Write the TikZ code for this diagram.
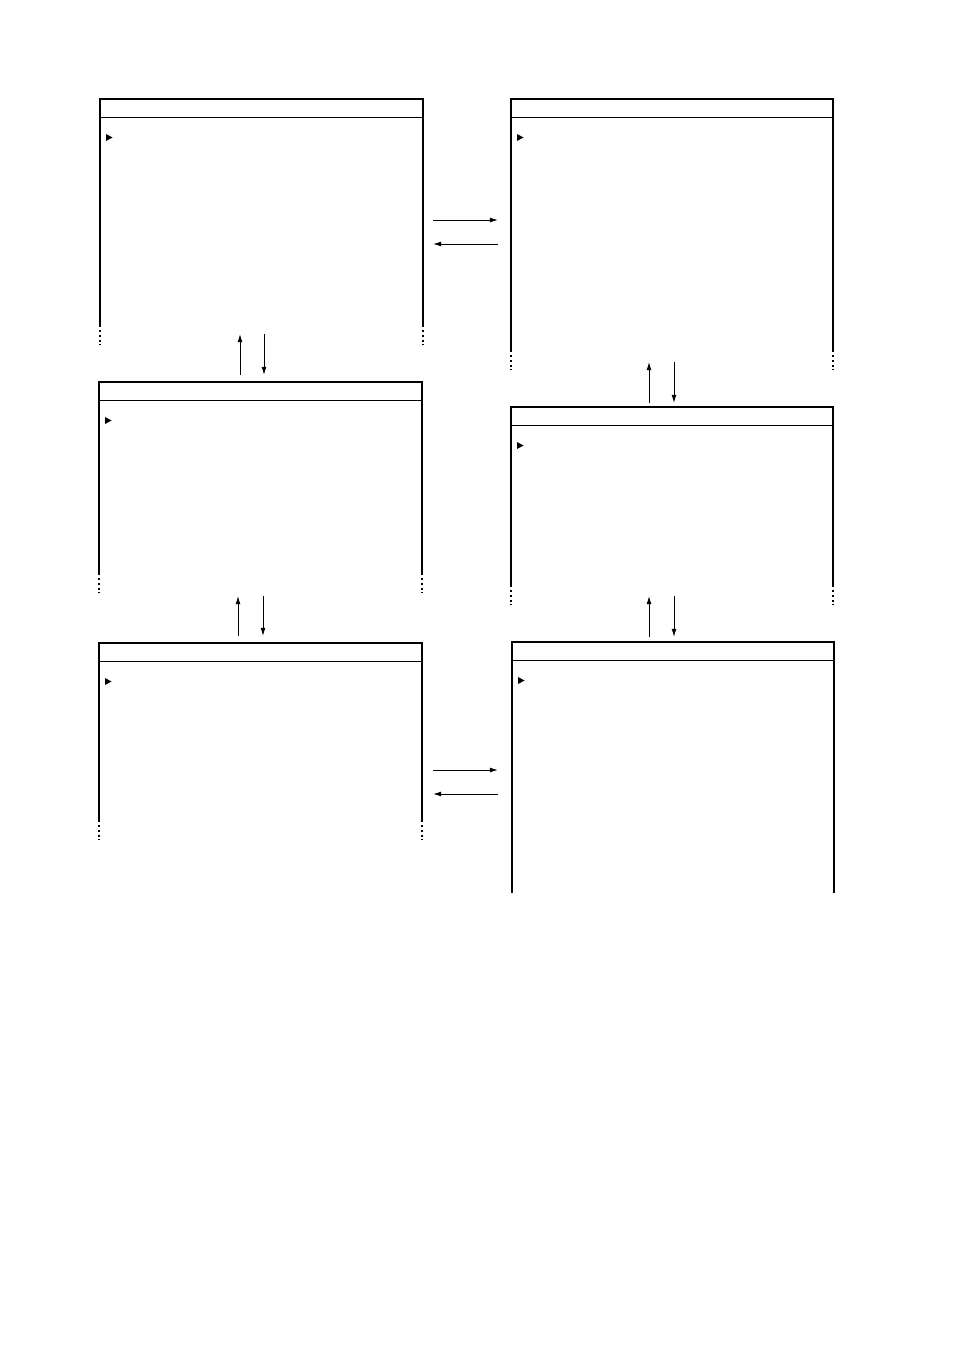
\documentclass[tikz,border=0pt]{standalone}
\usetikzlibrary{arrows.meta}

\tikzset{
  frame/.style={line width=0.75pt},
  tail/.style={line width=0.75pt,dash pattern=on 1.4pt off 1.6pt},
  flow/.style={line width=0.6pt,-{Latex[length=5pt,width=3pt]}},
}

\begin{document}
\begin{tikzpicture}[x=0.6237pt,y=-0.6237pt]
\useasboundingbox (0,0) rectangle (954,1351);

% panels: name/left/top/right/bottom of solid sides
\foreach \nm/\l/\t/\r/\b in {tl/100/99/423/327,tr/511/99/833/352,ml/99/382/422/575,
                            mr/511/407/833/587,bl/99/643/422/822,br/512/642/834/893} {
    \coordinate (\nm) at (\l,\t);
    \draw[frame] (\l,\b) -- (\l,\t) -- (\r,\t) -- (\r,\b);
    \draw[frame] (\l,\t+18.5) -- (\r,\t+18.5);
    \fill (\l+6,\t+35) -- (\l+12.5,\t+38.5) -- (\l+6,\t+42) -- cycle;
}

% cut-off sides
\foreach \l/\r/\b in {100/423/327,511/833/352,99/422/575,511/833/587,99/422/822} {
    \draw[tail] (\l,\b+3) -- (\l,\b+18);
    \draw[tail] (\r,\b+3) -- (\r,\b+18);
}

% arrow ends
\coordinate (h1a) at (433,220);  \coordinate (h1b) at (498,220);
\coordinate (h2a) at (498,244);  \coordinate (h2b) at (433,244);
\coordinate (h3a) at (433,770);  \coordinate (h3b) at (498,770);
\coordinate (h4a) at (498,794);  \coordinate (h4b) at (433,794);

\coordinate (v1a) at (240,375);  \coordinate (v1b) at (240,334);
\coordinate (v2a) at (264,334);  \coordinate (v2b) at (264,375);
\coordinate (v3a) at (238,636);  \coordinate (v3b) at (238,596);
\coordinate (v4a) at (263,596);  \coordinate (v4b) at (263,636);
\coordinate (v5a) at (649,403);  \coordinate (v5b) at (649,362);
\coordinate (v6a) at (674,362);  \coordinate (v6b) at (674,403);
\coordinate (v7a) at (649,637);  \coordinate (v7b) at (649,596);
\coordinate (v8a) at (674,596);  \coordinate (v8b) at (674,637);

\foreach \a in {h1,h2,h3,h4,v1,v2,v3,v4,v5,v6,v7,v8}
    \draw[flow] (\a a) -- (\a b);

\end{tikzpicture}
\end{document}
